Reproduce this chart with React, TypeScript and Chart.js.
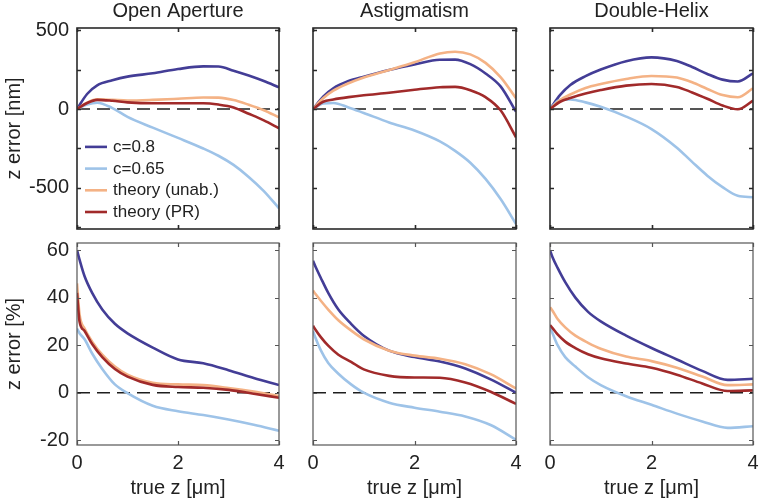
import React, { useEffect, useRef } from "react";
import { Chart, registerables } from "chart.js";

Chart.register(...registerables);

// ---------- data ----------
const TITLES = ["Open Aperture", "Astigmatism", "Double-Helix"];
const SERIES_NAMES = ["c=0.8", "c=0.65", "theory (unab.)", "theory (PR)"];
const COLORS = ["#433d96", "#9ec3e8", "#f4b285", "#a12a2a"];

// true z [µm] sample positions
const X_NM = [0, 0.2, 0.4, 0.7, 1, 1.5, 2, 2.5, 2.8, 3.1, 3.4, 3.7, 4];
const X_PCT = [0, 0.05, 0.15, 0.3, 0.5, 0.75, 1, 1.5, 2, 2.5, 3, 3.5, 4];

// z error [nm] — Open Aperture
const OA_NM_C08 = [0, 95, 150, 182, 205, 226, 253, 270, 269, 243, 212, 177, 137];
const OA_NM_C065 = [0, 28, 40, 6, -50, -118, -183, -250, -296, -354, -430, -520, -629];
const OA_NM_UNAB = [0, 40, 61, 58, 54, 58, 65, 73, 72, 57, 27, -8, -53];
const OA_NM_PR = [0, 38, 58, 52, 42, 36, 36, 36, 28, 10, -30, -72, -122];
// z error [nm] — Astigmatism
const AS_NM_C08 = [0, 78, 131, 177, 205, 247, 282, 312, 313, 284, 225, 142, -17];
const AS_NM_C065 = [0, 35, 38, 10, -25, -85, -136, -205, -265, -340, -443, -572, -728];
const AS_NM_UNAB = [0, 68, 116, 163, 200, 247, 296, 352, 363, 346, 292, 200, 68];
const AS_NM_PR = [0, 46, 60, 75, 87, 103, 122, 138, 140, 119, 75, -10, -179];
// z error [nm] — Double-Helix
const DH_NM_C08 = [0, 89, 152, 208, 250, 303, 327, 304, 266, 222, 186, 174, 226];
const DH_NM_C065 = [0, 58, 60, 42, 14, -48, -127, -245, -335, -422, -495, -550, -559];
const DH_NM_UNAB = [0, 57, 92, 133, 158, 190, 209, 199, 169, 127, 88, 74, 131];
const DH_NM_PR = [0, 46, 70, 98, 120, 148, 158, 140, 105, 65, 22, -2, 53];

// z error [%] — Open Aperture
const OA_PCT_C08 = [60, 56, 49, 42, 35, 29, 25, 19, 14, 12.4, 9.5, 6.2, 3.2];
const OA_PCT_C065 = [27, 25, 22.5, 16.5, 10, 3.5, -0.2, -5.5, -7.8, -9.4, -11.3, -13.5, -16];
const OA_PCT_UNAB = [46, 33, 27, 21.5, 16, 11, 7.6, 4.2, 3.5, 3.2, 2, 0.5, -1.4];
const OA_PCT_PR = [42, 30, 26, 20.5, 15, 10, 6.8, 3.3, 2.4, 2.1, 1.2, -0.4, -2.1];
// z error [%] — Astigmatism
const AS_PCT_C08 = [55.5, 53, 48.5, 42, 35, 29, 24, 17.7, 15, 13.1, 10.2, 5.6, 0];
const AS_PCT_C065 = [26, 23, 18, 12.5, 8, 3.5, 0, -4.2, -6.3, -8, -10, -13.6, -19.8];
const AS_PCT_UNAB = [43, 41.5, 38.8, 35, 30.5, 26.2, 22.5, 17.7, 15.6, 14.3, 12, 7.8, 1.8];
const AS_PCT_PR = [28.2, 26.5, 23.5, 19.8, 16, 13, 9.8, 7.1, 6.4, 6.3, 4.3, 0.4, -4.7];
// z error [%] — Double-Helix
const DH_PCT_C08 = [60, 57, 52.5, 46.5, 40, 34, 30, 24, 18.8, 14, 9.2, 5.4, 5.9];
const DH_PCT_C065 = [27.5, 25, 20, 15, 11, 6.5, 3.2, -1.5, -5.1, -8.8, -12.1, -14.8, -14.1];
const DH_PCT_UNAB = [36, 34.5, 31, 27.5, 24, 21, 18.5, 15.2, 13.3, 10.5, 6.8, 3.2, 3.5];
const DH_PCT_PR = [28.5, 27.2, 24.5, 21.5, 18.8, 16.2, 14.5, 12.3, 10.5, 7.6, 3.9, 0.7, 1];

const NM_SERIES = [
  [OA_NM_C08, OA_NM_C065, OA_NM_UNAB, OA_NM_PR],
  [AS_NM_C08, AS_NM_C065, AS_NM_UNAB, AS_NM_PR],
  [DH_NM_C08, DH_NM_C065, DH_NM_UNAB, DH_NM_PR],
];
const PCT_SERIES = [
  [OA_PCT_C08, OA_PCT_C065, OA_PCT_UNAB, OA_PCT_PR],
  [AS_PCT_C08, AS_PCT_C065, AS_PCT_UNAB, AS_PCT_PR],
  [DH_PCT_C08, DH_PCT_C065, DH_PCT_UNAB, DH_PCT_PR],
];

const X_TICKS = [0, 2, 4];
const X_TICK_LABELS = [0, 2, 4];
const NM_TICKS = [-750, -500, -250, 0, 250, 500];
const NM_TICK_LABELS = [-500, 0, 500];
const PCT_TICKS = [-20, 0, 20, 40, 60];
const PCT_TICK_LABELS = [-20, 0, 20, 40, 60];

// ---------- styling / layout ----------
const FONT = '"Liberation Sans", Arial, Helvetica, sans-serif';
const TEXT = "#222";
const PLOT_X: [number, number][] = [
  [77, 279],
  [313, 516],
  [550, 753],
];

const frameTicksPlugin = {
  id: "frameTicks",
  afterDatasetsDraw(chart: any, _args: any, opts: any) {
    const { ctx, chartArea: a, scales } = chart;
    const L = 4;
    ctx.save();
    ctx.strokeStyle = opts.color;
    ctx.lineWidth = opts.width;
    ctx.beginPath();
    (opts.yTicks as number[]).forEach((v) => {
      const y = Math.round(scales.y.getPixelForValue(v)) + 0.5;
      ctx.moveTo(a.left, y);
      ctx.lineTo(a.left + L, y);
      ctx.moveTo(a.right, y);
      ctx.lineTo(a.right - L, y);
    });
    (opts.xTicks as number[]).forEach((v) => {
      const x = Math.round(scales.x.getPixelForValue(v)) + 0.5;
      ctx.moveTo(x, a.top);
      ctx.lineTo(x, a.top + L);
      ctx.moveTo(x, a.bottom);
      ctx.lineTo(x, a.bottom - L);
    });
    ctx.stroke();
    ctx.strokeRect(a.left, a.top, a.right - a.left, a.bottom - a.top);
    ctx.restore();
  },
};

const lineLegendPlugin = {
  id: "lineLegend",
  afterDatasetsDraw(chart: any, _args: any, opts: any) {
    if (!opts.show) return;
    const { ctx, chartArea: a } = chart;
    const items = chart.data.datasets.filter((d: any) => !d.isRef);
    ctx.save();
    ctx.font = `17px ${FONT}`;
    ctx.textBaseline = "middle";
    ctx.textAlign = "left";
    const n = items.length;
    items.forEach((d: any, i: number) => {
      const y = a.bottom - 17 - (n - 1 - i) * 21.7;
      ctx.strokeStyle = d.borderColor;
      ctx.lineWidth = 2.6;
      ctx.beginPath();
      ctx.moveTo(a.left + 8, y);
      ctx.lineTo(a.left + 30, y);
      ctx.stroke();
      ctx.fillStyle = TEXT;
      ctx.fillText(d.label, a.left + 36, y + 0.5);
    });
    ctx.restore();
  },
};

function Panel({ row, col }: { row: number; col: number }) {
  const ref = useRef<HTMLCanvasElement | null>(null);
  const [pl, pr] = PLOT_X[col];
  const left = col === 0 ? 0 : pl - 8;
  const yAxisW = col === 0 ? 77 : 8;
  const width = pr + 8 - left;
  const top = row === 0 ? 0 : 232;
  const height = row === 0 ? 232 : 268;

  useEffect(() => {
    if (!ref.current) return;
    const isNm = row === 0;
    const xs = isNm ? X_NM : X_PCT;
    const series = isNm ? NM_SERIES[col] : PCT_SERIES[col];
    const yTicks = isNm ? NM_TICKS : PCT_TICKS;
    const yLabels = isNm ? NM_TICK_LABELS : PCT_TICK_LABELS;
    const orders = [3, 2, 1, 0];

    const datasets: any[] = series.map((ys, i) => ({
      label: SERIES_NAMES[i],
      data: xs.map((x, j) => ({ x, y: ys[j] })),
      borderColor: COLORS[i],
      backgroundColor: COLORS[i],
      borderWidth: 2.6,
      pointRadius: 0,
      cubicInterpolationMode: "monotone",
      order: orders[i],
    }));
    datasets.push({
      label: "zero",
      isRef: true,
      data: [
        { x: 0, y: 0 },
        { x: 4, y: 0 },
      ],
      borderColor: "#1e1e1e",
      borderWidth: 1.6,
      borderDash: [13, 7],
      pointRadius: 0,
      order: 10,
    });

    const tickFont = { family: FONT, size: 20, lineHeight: 1 };

    const chart = new Chart(ref.current, {
      type: "line",
      data: { datasets },
      plugins: [frameTicksPlugin, lineLegendPlugin],
      options: {
        animation: false,
        responsive: false,
        maintainAspectRatio: false,
        events: [],
        layout: { padding: { left: 0, right: 8, top: row === 0 ? 0 : 11, bottom: 0 } },
        plugins: {
          legend: { display: false },
          tooltip: { enabled: false },
          title: {
            display: row === 0,
            text: TITLES[col],
            fullSize: false,
            color: TEXT,
            font: { family: FONT, size: 20, weight: "normal", lineHeight: 1 },
            padding: { top: 1, bottom: 7 },
          },
          frameTicks: {
            color: row === 0 ? "#2a2a2a" : "#555",
            width: row === 0 ? 1.6 : 1.2,
            xTicks: X_TICKS,
            yTicks,
          },
          lineLegend: { show: row === 0 && col === 0 },
        } as any,
        scales: {
          x: {
            type: "linear",
            min: 0,
            max: 4,
            afterBuildTicks: (s: any) => {
              s.ticks = X_TICKS.map((v) => ({ value: v }));
            },
            afterFit: (s: any) => {
              s.height = row === 0 ? 3 : 55;
              s.paddingLeft = 0;
              s.paddingRight = 0;
            },
            grid: { display: false, drawTicks: false },
            border: { display: false },
            ticks: {
              display: row === 1,
              padding: 8,
              color: TEXT,
              font: tickFont,
              maxRotation: 0,
              callback: (v: any) => (X_TICK_LABELS.includes(v) ? String(v) : null),
            },
            title: {
              display: row === 1,
              text: "true z [μm]",
              color: TEXT,
              font: { family: FONT, size: 20, lineHeight: 1 },
              padding: { top: 0, bottom: 2 },
            },
          },
          y: {
            type: "linear",
            min: isNm ? -760 : -22,
            max: isNm ? 513 : 63,
            afterBuildTicks: (s: any) => {
              s.ticks = yTicks.map((v) => ({ value: v }));
            },
            afterFit: (s: any) => {
              s.width = yAxisW;
              s.paddingTop = 0;
              s.paddingBottom = 0;
            },
            grid: { display: false, drawTicks: false },
            border: { display: false },
            ticks: {
              display: col === 0,
              padding: 8,
              color: TEXT,
              font: tickFont,
              callback: (v: any) => (yLabels.includes(v) ? String(v) : null),
            },
            title: {
              display: col === 0,
              text: isNm ? "z error [nm]" : "z error [%]",
              color: TEXT,
              font: { family: FONT, size: 20, lineHeight: 1 },
              padding: { top: 4, bottom: 0 },
            },
          },
        },
      } as any,
    });
    return () => chart.destroy();
  }, [row, col]);

  return (
    <div style={{ position: "absolute", left, top, width, height }}>
      <canvas ref={ref} width={width} height={height} style={{ display: "block", width, height }} />
    </div>
  );
}

export default function App() {
  return (
    <div
      style={{
        position: "absolute",
        left: 0,
        top: 0,
        width: 761,
        height: 500,
        background: "#fff",
        overflow: "hidden",
      }}
    >
      {[0, 1].map((r) => [0, 1, 2].map((c) => <Panel key={`${r}-${c}`} row={r} col={c} />))}
    </div>
  );
}
